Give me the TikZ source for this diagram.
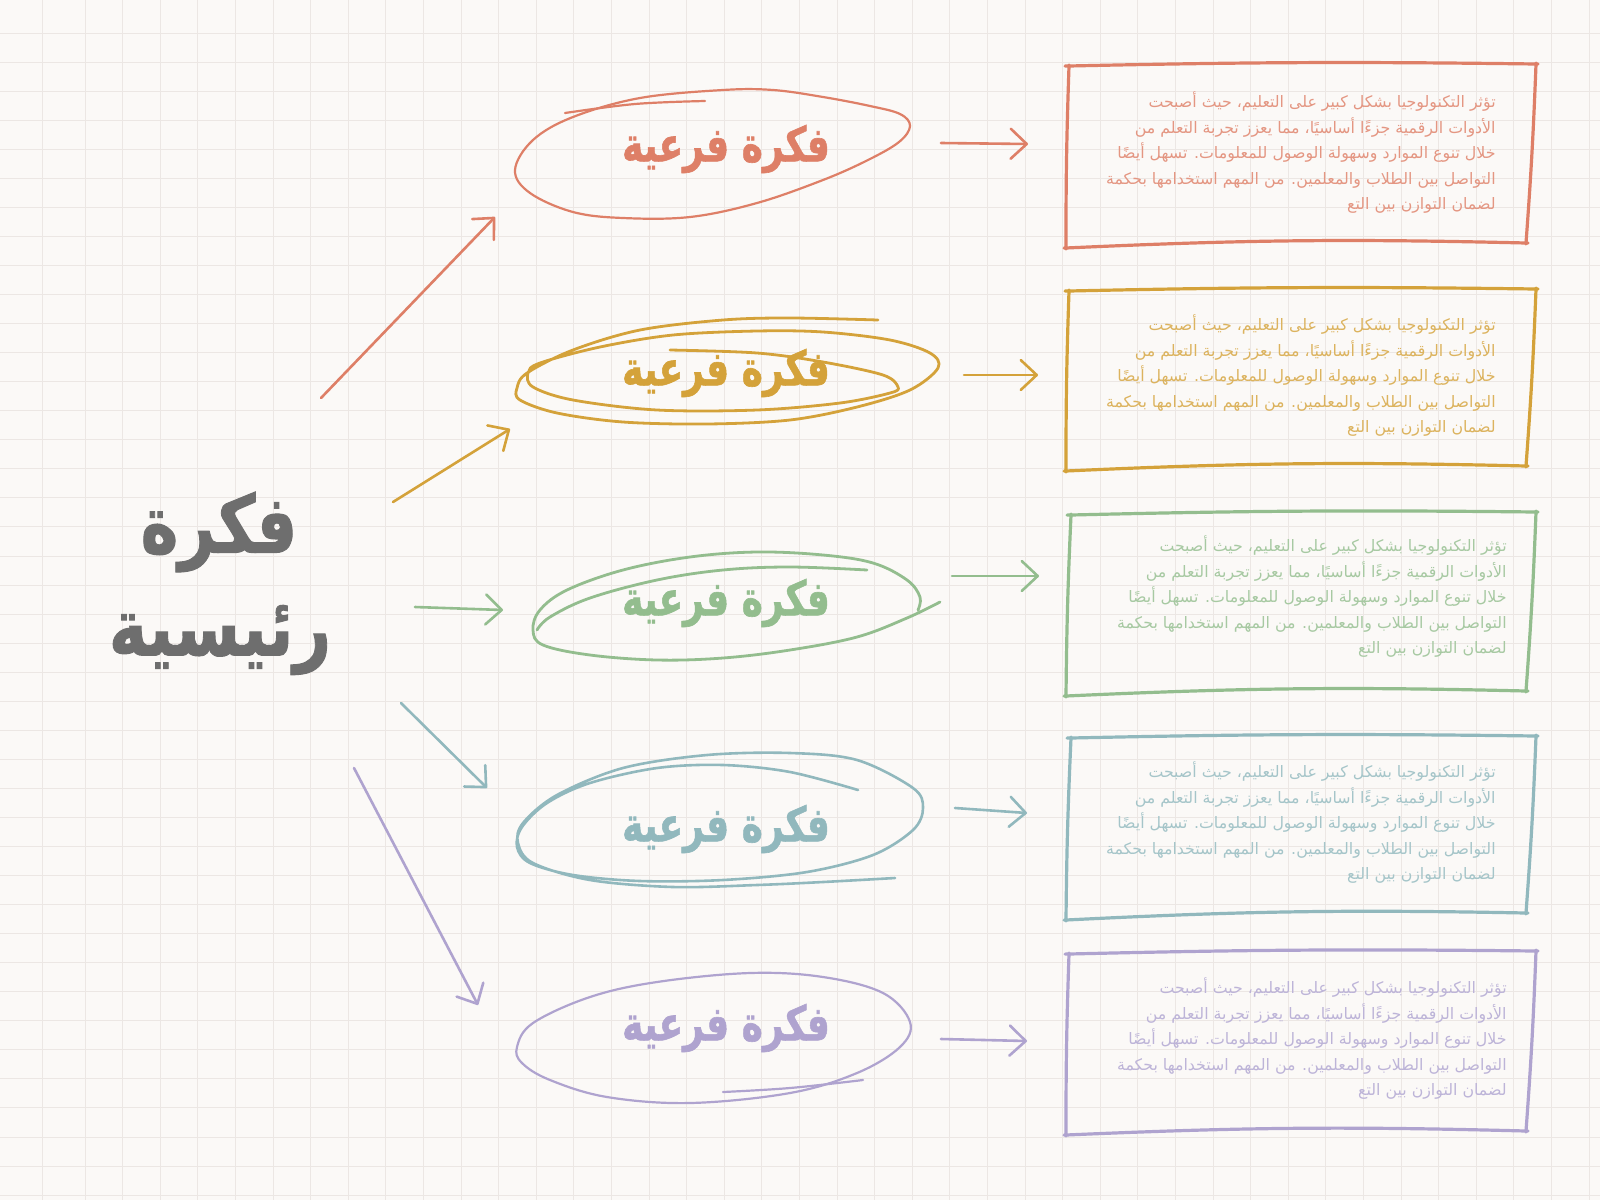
\documentclass[tikz,border=0pt]{standalone}
\usepackage{fontspec}
\usepackage{graphicx}
\newfontfamily\arabicfont[Script=Arabic]{DejaVu Sans}
\newfontfamily\arabicheavy[Script=Arabic,BoldFeatures={FakeBold=1.3}]{DejaVu Sans}
\TeXXeTstate=1
\usetikzlibrary{arrows.meta,calc}
\definecolor{bg}{HTML}{FBF9F7}
\definecolor{gridc}{HTML}{ECE7E4}
\definecolor{cO}{HTML}{DE7F67}
\definecolor{cG}{HTML}{D4A23A}
\definecolor{cN}{HTML}{93BD8E}
\definecolor{cT}{HTML}{91B8BD}
\definecolor{cP}{HTML}{AFA3CF}
\definecolor{cM}{HTML}{6E6E6E}
\newcommand\bodytext{%
\beginR تؤثر التكنولوجيا بشكل كبير على التعليم، حيث أصبحت\endR\\
\beginR الأدوات الرقمية جزءًا أساسيًا، مما يعزز تجربة التعلم من\endR\\
\beginR خلال تنوع الموارد وسهولة الوصول للمعلومات. تسهل أيضًا\endR\\
\beginR التواصل بين الطلاب والمعلمين. من المهم استخدامها بحكمة\endR\\
\beginR لضمان التوازن بين التع\endR}
\newcommand\subtext{\scalebox{0.75}[1]{\beginR فكرة فرعية\endR}}
\newcommand\skrect[5]{%
 \draw[boxline,#1,shorten <=-2pt,shorten >=-1pt] (#2) to[bend left=1] (#3);
 \draw[boxline,#1,shorten <=-0.5pt,shorten >=-0.5pt] (#3) to[bend left=1] (#4);
 \draw[boxline,#1,shorten <=-1pt,shorten >=-1pt] (#4) to[bend right=2] (#5);
 \draw[boxline,#1,shorten <=-0.5pt,shorten >=-0.5pt] (#5) to[bend left=1] (#2);}
\begin{document}
\begin{tikzpicture}[x=0.5pt,y=-0.5pt,
  sub/.style={font=\arabicheavy\bfseries\fontsize{24}{28}\selectfont, inner sep=0},
  mainlbl/.style={font=\arabicheavy\bfseries\fontsize{40}{52}\selectfont, text=cM, inner sep=0},
  body/.style={font=\arabicfont\fontsize{7.9}{12.75}\selectfont, align=right, inner sep=0, anchor=east},
  loopline/.style={line width=1.1pt, line cap=round, line join=round},
  boxline/.style={line width=1.6pt, line cap=round},
  arr/.style={line width=1.3pt, line cap=round, -{Straight Barb[length=8pt,width=15pt,round]}}
]
\useasboundingbox (0,0) rectangle (1600,1200);
\fill[bg] (0,0) rectangle (1600,1200);
\draw[gridc, line width=0.45pt] (42,0) -- (42,1200);
\foreach \i in {0,...,40} \draw[gridc, line width=0.45pt] ({85+37.6*\i},0) -- ({85+37.6*\i},1200);
\foreach \i in {1,...,41} \draw[gridc, line width=0.45pt] (0,{4+29.05*\i}) -- (1600,{4+29.05*\i});

% main idea
\node[mainlbl] (m1) at (219,532) {\scalebox{0.8}[1]{\beginR فكرة\endR}};
\node[mainlbl] (m2) at (220,640) {\scalebox{0.82}[1]{\beginR رئيسية\endR}};

% sub ideas
\node[sub,text=cO] (s1) at (726,149) {\subtext};
\node[sub,text=cG] (s2) at (726,373) {\subtext};
\node[sub,text=cN] (s3) at (726,603) {\subtext};
\node[sub,text=cT] (s4) at (726,829) {\subtext};
\node[sub,text=cP] (s5) at (726,1028) {\subtext};

% sketched loops
\draw[loopline,cO] plot[smooth cycle, tension=0.6] coordinates {(515,170) (533,140) (573,117) (640,98) (723,90) (773,90) (823,97) (870,106) (900,114) (910,126) (899,142) (868,160) (823,180) (757,203) (690,217) (623,218) (573,212) (530,193)};
\draw[loopline,cO] plot[smooth, tension=0.6] coordinates {(565,113) (635,104) (705,101)};

\draw[loopline,cG,line width=1.4pt] plot[smooth, tension=0.55] coordinates {(878,320) (790,318) (723,320) (640,330) (573,350) (527,373) (517,388) (520,400) (557,413) (623,422) (707,424) (790,420) (857,407) (910,390) (938,368) (930,353) (890,340) (823,332) (757,331) (673,335) (600,347) (540,363) (528,373) (533,387) (573,400) (657,410) (757,410) (840,403) (890,393) (898,387) (883,375) (823,362) (757,353) (670,350)};

\draw[loopline,cN,line width=1.4pt] plot[smooth, tension=0.6] coordinates {(918,610) (920,597) (907,580) (873,563) (823,555) (757,552) (690,557) (623,570) (567,590) (540,610) (533,630) (543,645) (590,655) (657,660) (723,658) (790,650) (857,637) (907,618) (940,602)};
\draw[loopline,cN,line width=1.4pt] plot[smooth, tension=0.6] coordinates {(867,570) (790,567) (723,570) (657,580) (590,598) (550,617) (537,630)};

\draw[loopline,cT,line width=1.3pt] plot[smooth, tension=0.55] coordinates {(858,790) (790,772) (723,765) (657,768) (590,783) (547,803) (522,827) (517,847) (530,863) (573,875) (640,881) (723,880) (807,872) (873,855) (913,830) (923,808) (913,788) (857,760) (790,753) (707,755) (623,768) (557,795) (523,823) (518,843) (533,863) (590,880) (673,887) (757,885) (823,882) (895,878)};

\draw[loopline,cP] plot[smooth cycle, tension=0.6] coordinates {(517,1047) (533,1023) (590,997) (657,982) (750,973) (823,977) (883,993) (910,1022) (900,1047) (857,1073) (790,1093) (690,1103) (607,1097) (550,1080) (522,1063)};
\draw[loopline,cP] plot[smooth, tension=0.6] coordinates {(723,1092) (790,1088) (863,1080)};

% boxes
\coordinate (b1tl) at (1069,66);  \coordinate (b1tr) at (1536,64);  \coordinate (b1br) at (1526,243);  \coordinate (b1bl) at (1066,248);
\coordinate (b2tl) at (1069,291); \coordinate (b2tr) at (1536,289); \coordinate (b2br) at (1526,466);  \coordinate (b2bl) at (1066,471);
\coordinate (b3tl) at (1071,515); \coordinate (b3tr) at (1536,512); \coordinate (b3br) at (1526,691);  \coordinate (b3bl) at (1066,696);
\coordinate (b4tl) at (1071,738); \coordinate (b4tr) at (1536,736); \coordinate (b4br) at (1526,913);  \coordinate (b4bl) at (1066,920);
\coordinate (b5tl) at (1069,954); \coordinate (b5tr) at (1536,951); \coordinate (b5br) at (1526,1131); \coordinate (b5bl) at (1066,1135);
\skrect{cO}{b1tl}{b1tr}{b1br}{b1bl}
\skrect{cG}{b2tl}{b2tr}{b2br}{b2bl}
\skrect{cN}{b3tl}{b3tr}{b3br}{b3bl}
\skrect{cT}{b4tl}{b4tr}{b4br}{b4bl}
\skrect{cP}{b5tl}{b5tr}{b5br}{b5bl}

\node[body,text=cO!82!white] (t1) at (1496,153) {\bodytext};
\node[body,text=cG!82!white] (t2) at (1496,376) {\bodytext};
\node[body,text=cN!82!white] (t3) at (1507,597) {\bodytext};
\node[body,text=cT!82!white] (t4) at (1496,823) {\bodytext};
\node[body,text=cP!82!white] (t5) at (1507,1039) {\bodytext};

% arrows main -> sub
\coordinate (l1s) at (321,398);  \coordinate (l1e) at (495,217);
\coordinate (l2s) at (393,502);  \coordinate (l2e) at (510,429);
\coordinate (l3s) at (415,607);  \coordinate (l3e) at (503,610);
\coordinate (l4s) at (401,703);  \coordinate (l4e) at (487,788);
\coordinate (l5s) at (354,768);  \coordinate (l5e) at (478,1005);
\draw[arr,cO] (l1s) -- (l1e);
\draw[arr,cG] (l2s) -- (l2e);
\draw[arr,cN] (l3s) -- (l3e);
\draw[arr,cT] (l4s) -- (l4e);
\draw[arr,cP] (l5s) -- (l5e);

% arrows sub -> box
\coordinate (r1s) at (941,143);  \coordinate (r1e) at (1028,144);
\coordinate (r2s) at (964,375);  \coordinate (r2e) at (1038,375);
\coordinate (r3s) at (952,576);  \coordinate (r3e) at (1039,576);
\coordinate (r4s) at (955,808);  \coordinate (r4e) at (1027,813);
\coordinate (r5s) at (941,1039); \coordinate (r5e) at (1027,1041);
\draw[arr,cO] (r1s) -- (r1e);
\draw[arr,cG] (r2s) -- (r2e);
\draw[arr,cN] (r3s) -- (r3e);
\draw[arr,cT] (r4s) -- (r4e);
\draw[arr,cP] (r5s) -- (r5e);
\end{tikzpicture}
\end{document}
